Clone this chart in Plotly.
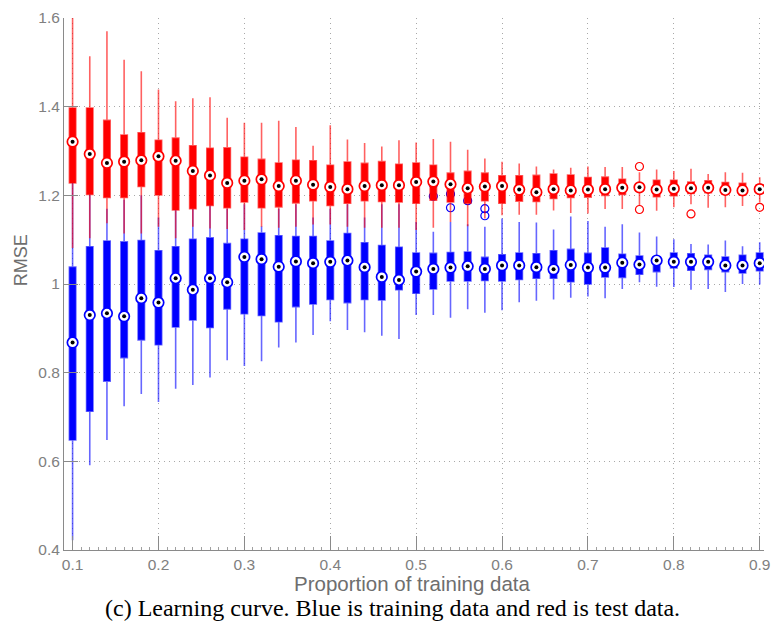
import plotly.graph_objects as go

# Proportion of training data (box positions)
proportion = [0.10, 0.12, 0.14, 0.16, 0.18, 0.20, 0.22, 0.24, 0.26, 0.28,
              0.30, 0.32, 0.34, 0.36, 0.38, 0.40, 0.42, 0.44, 0.46, 0.48,
              0.50, 0.52, 0.54, 0.56, 0.58, 0.60, 0.62, 0.64, 0.66, 0.68,
              0.70, 0.72, 0.74, 0.76, 0.78, 0.80, 0.82, 0.84, 0.86, 0.88, 0.90]

# Test data (red)
test_lower = [1.081, 1.103, 1.137, 1.114, 1.114, 1.129, 1.103, 1.129, 1.125, 1.124,
              1.122, 1.129, 1.127, 1.129, 1.134, 1.134, 1.129, 1.127, 1.127, 1.127,
              1.122, 1.127, 1.140, 1.130, 1.148, 1.155, 1.156, 1.156, 1.166, 1.160,
              1.159, 1.169, 1.169, 1.176, 1.165, 1.173, 1.180, 1.172, 1.173, 1.176, 1.184]
test_q1 = [1.228, 1.202, 1.195, 1.195, 1.220, 1.201, 1.167, 1.170, 1.177, 1.172,
           1.185, 1.172, 1.174, 1.183, 1.188, 1.177, 1.182, 1.188, 1.186, 1.185,
           1.182, 1.189, 1.185, 1.182, 1.188, 1.182, 1.187, 1.186, 1.193, 1.195,
           1.196, 1.200, 1.202, 1.211, 1.197, 1.199, 1.204, 1.206, 1.203, 1.201, 1.206]
test_median = [1.321, 1.293, 1.273, 1.276, 1.279, 1.288, 1.278, 1.255, 1.245, 1.228,
               1.233, 1.236, 1.221, 1.233, 1.224, 1.219, 1.214, 1.221, 1.223, 1.223,
               1.230, 1.231, 1.225, 1.216, 1.220, 1.221, 1.213, 1.207, 1.214, 1.211,
               1.213, 1.214, 1.217, 1.218, 1.213, 1.215, 1.216, 1.217, 1.212, 1.211, 1.214]
test_q3 = [1.397, 1.397, 1.369, 1.336, 1.341, 1.324, 1.329, 1.312, 1.306, 1.307,
           1.286, 1.281, 1.273, 1.279, 1.278, 1.268, 1.275, 1.272, 1.276, 1.270,
           1.273, 1.268, 1.250, 1.254, 1.250, 1.244, 1.244, 1.245, 1.248, 1.246,
           1.240, 1.241, 1.236, 1.223, 1.234, 1.234, 1.230, 1.233, 1.229, 1.227, 1.224]
test_upper = [1.620, 1.514, 1.570, 1.506, 1.480, 1.439, 1.412, 1.419, 1.421, 1.375,
              1.364, 1.364, 1.368, 1.354, 1.312, 1.358, 1.326, 1.318, 1.310, 1.324,
              1.319, 1.327, 1.321, 1.303, 1.283, 1.276, 1.272, 1.265, 1.258, 1.262,
              1.265, 1.264, 1.264, 1.252, 1.258, 1.255, 1.260, 1.248, 1.252, 1.251, 1.241]
test_outlier_x = [0.76, 0.76, 0.82, 0.90]
test_outlier_y = [1.265, 1.168, 1.158, 1.173]

# Training data (blue)
train_lower = [0.422, 0.591, 0.648, 0.724, 0.752, 0.734, 0.764, 0.772, 0.789, 0.828,
               0.815, 0.826, 0.857, 0.868, 0.885, 0.916, 0.896, 0.891, 0.883, 0.876,
               0.930, 0.930, 0.924, 0.943, 0.935, 0.941, 0.959, 0.962, 0.965, 0.969,
               0.972, 0.968, 0.989, 1.004, 0.994, 0.993, 0.987, 0.989, 0.982, 1.000, 0.999]
train_q1 = [0.648, 0.713, 0.781, 0.834, 0.874, 0.863, 0.903, 0.919, 0.902, 0.944,
            0.933, 0.929, 0.915, 0.949, 0.955, 0.965, 0.958, 0.965, 0.964, 0.987,
            0.979, 0.989, 1.007, 1.007, 1.008, 1.007, 1.010, 1.013, 1.013, 1.005,
            1.000, 1.016, 1.015, 1.022, 1.028, 1.036, 1.031, 1.033, 1.028, 1.025, 1.030]
train_median = [0.868, 0.930, 0.934, 0.927, 0.968, 0.958, 1.013, 0.987, 1.013, 1.004,
                1.061, 1.056, 1.039, 1.051, 1.047, 1.050, 1.053, 1.038, 1.016, 1.009,
                1.028, 1.034, 1.037, 1.040, 1.034, 1.042, 1.042, 1.038, 1.033, 1.043,
                1.037, 1.037, 1.048, 1.044, 1.053, 1.050, 1.050, 1.050, 1.042, 1.042, 1.047]
train_q3 = [1.038, 1.084, 1.097, 1.095, 1.098, 1.075, 1.084, 1.101, 1.104, 1.091,
            1.101, 1.115, 1.109, 1.107, 1.107, 1.097, 1.114, 1.093, 1.087, 1.083,
            1.070, 1.069, 1.071, 1.072, 1.060, 1.066, 1.070, 1.068, 1.075, 1.078,
            1.069, 1.081, 1.067, 1.063, 1.059, 1.070, 1.068, 1.065, 1.061, 1.065, 1.070]
train_upper = [1.250, 1.230, 1.170, 1.190, 1.200, 1.150, 1.170, 1.170, 1.180, 1.170,
               1.180, 1.130, 1.170, 1.180, 1.150, 1.170, 1.180, 1.150, 1.180, 1.180,
               1.140, 1.118, 1.140, 1.135, 1.129, 1.148, 1.140, 1.139, 1.123, 1.152,
               1.142, 1.129, 1.135, 1.116, 1.107, 1.101, 1.090, 1.089, 1.098, 1.085, 1.094]
train_outlier_x = [0.52, 0.52, 0.54, 0.54, 0.56, 0.58, 0.58]
train_outlier_y = [1.225, 1.198, 1.203, 1.172, 1.188, 1.170, 1.154]

x_ticks = [0.1, 0.2, 0.3, 0.4, 0.5, 0.6, 0.7, 0.8, 0.9]
x_tick_labels = ["0.1", "0.2", "0.3", "0.4", "0.5", "0.6", "0.7", "0.8", "0.9"]
y_ticks = [0.4, 0.6, 0.8, 1.0, 1.2, 1.4, 1.6]
y_tick_labels = ["0.4", "0.6", "0.8", "1", "1.2", "1.4", "1.6"]

BLUE = "#0000ff"
RED = "#ff0000"
X_RANGE = [0.09, 0.905]
Y_RANGE = [0.4, 1.6]


def series(xaxis, lower, q1, med, q3, upper, ox, oy, color, wcolor):
    return [
        go.Box(x=proportion, q1=q1, median=med, q3=q3,
               lowerfence=lower, upperfence=upper,
               width=0.0075, whiskerwidth=0, fillcolor=color,
               line=dict(color=wcolor, width=1.6), boxpoints=False,
               hoverinfo="skip", xaxis=xaxis, yaxis="y"),
        go.Scatter(x=ox, y=oy, mode="markers", xaxis=xaxis, yaxis="y",
                   marker=dict(symbol="circle-open", size=8, color=color,
                               line=dict(width=1.2)), hoverinfo="skip"),
        go.Scatter(x=proportion, y=med, mode="markers", xaxis=xaxis, yaxis="y",
                   marker=dict(symbol="circle", size=10.5, color="white",
                               line=dict(color=color, width=1.7)), hoverinfo="skip"),
        go.Scatter(x=proportion, y=med, mode="markers", xaxis=xaxis, yaxis="y",
                   marker=dict(symbol="circle", size=4, color="black",
                               line=dict(width=0)), hoverinfo="skip"),
    ]


fig = go.Figure()
for tr in series("x", train_lower, train_q1, train_median, train_q3, train_upper,
                 train_outlier_x, train_outlier_y, BLUE, "rgba(0,0,255,0.6)"):
    fig.add_trace(tr)
for tr in series("x2", test_lower, test_q1, test_median, test_q3, test_upper,
                 test_outlier_x, test_outlier_y, RED, "rgba(255,0,0,0.62)"):
    fig.add_trace(tr)

tickfont = dict(family="Liberation Sans, Arial, sans-serif", size=15.5, color="#808080")
axis_common = dict(
    ticks="inside", ticklen=14, tickcolor="#8a8a8a", tickwidth=1,
    showline=True, linecolor="#8a8a8a", linewidth=1, mirror=False,
    showgrid=True, gridcolor="#a8a8a8", gridwidth=1, griddash="1px,4px",
    zeroline=False, tickfont=tickfont, fixedrange=True,
)

fig.update_layout(
    width=779, height=634,
    margin=dict(l=64, r=9, t=9, b=84),
    plot_bgcolor="white", paper_bgcolor="white",
    showlegend=False, boxmode="overlay",
    xaxis=dict(range=X_RANGE, tickvals=x_ticks, ticktext=x_tick_labels,
               ticklabelstandoff=0,
               minor=dict(ticks="inside", ticklen=3, tickcolor="#a0a0a0", dtick=0.01,
                          showgrid=False),
               **axis_common),
    xaxis2=dict(range=X_RANGE, overlaying="x", anchor="y", visible=False,
                fixedrange=True),
    yaxis=dict(range=Y_RANGE, tickvals=y_ticks, ticktext=y_tick_labels,
               **axis_common),
    annotations=[
        dict(text="Proportion of training data", xref="paper", yref="paper",
             x=0.497, y=-0.0638, xanchor="center", yanchor="middle", showarrow=False,
             font=dict(family="Liberation Sans, Arial, sans-serif", size=20.5, color="#6e6e6e")),
        dict(text="RMSE", xref="paper", yref="paper", textangle=-90,
             x=-0.061, y=0.545, xanchor="center", yanchor="middle", showarrow=False,
             font=dict(family="Liberation Sans, Arial, sans-serif", size=18, color="#6e6e6e")),
        dict(text="(c) Learning curve. Blue is training data and red is test data.",
             xref="paper", yref="paper", x=0.469, y=-0.1081,
             xanchor="center", yanchor="middle", showarrow=False,
             font=dict(family="Liberation Serif, Times New Roman, serif", size=24, color="black")),
    ],
)

fig.write_html("out.html")
